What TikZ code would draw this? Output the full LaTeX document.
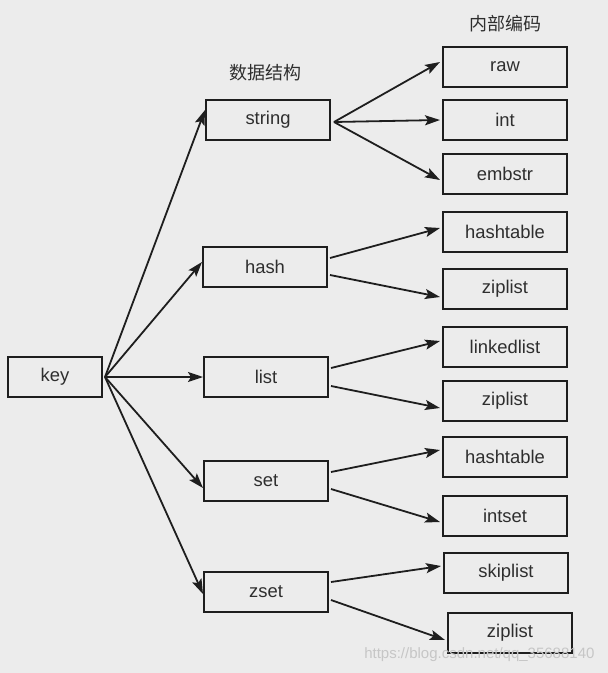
\documentclass[tikz,border=0pt]{standalone}
\usepackage{fontspec}
\setmainfont{Liberation Sans}
\newfontfamily\cjk{Noto Sans CJK SC}
\usetikzlibrary{arrows.meta}
\definecolor{bg}{HTML}{ECECEC}
\definecolor{ink}{HTML}{1E1E1E}
\definecolor{txt}{HTML}{2E2E2E}
\tikzset{
  box/.style={draw=ink, line width=2pt, minimum width=124pt, minimum height=40pt,
    inner sep=0pt, font=\fontsize{18.4}{22}\selectfont, text=txt},
  keybox/.style={box, minimum width=94pt},
  link/.style={draw=ink, line width=1.8pt, -{Stealth[length=15pt,width=10pt,inset=3pt]}},
  heading/.style={font=\cjk\fontsize{18}{22}\selectfont, text=txt},
}
\begin{document}
\begin{tikzpicture}[x=1pt,y=-1pt]
  \fill[bg] (0,0) rectangle (608,673);
  \useasboundingbox (0,0) rectangle (608,673);

  % column headings
  \node[heading] (hdA) at (265,73) {数据结构};
  \node[heading] (hdB) at (505,24) {内部编码};

  % key
  \node[keybox] (key) at (55,377) {key};

  % data structures
  \node[box] (string) at (268,120) {string};
  \node[box] (hash)   at (265,267) {hash};
  \node[box] (list)   at (266,377) {list};
  \node[box] (set)    at (266,481) {set};
  \node[box] (zset)   at (266,592) {zset};

  % internal encodings
  \node[box] (raw)   at (505,67)  {raw};
  \node[box] (int)   at (505,120) {int};
  \node[box] (emb)   at (505,174) {embstr};
  \node[box] (hht)   at (505,232) {hashtable};
  \node[box] (hzl)   at (505,289) {ziplist};
  \node[box] (lll)   at (505,347) {linkedlist};
  \node[box] (lzl)   at (505,401) {ziplist};
  \node[box] (sht)   at (505,457) {hashtable};
  \node[box] (sis)   at (505,516) {intset};
  \node[box] (zsk)   at (506,573) {skiplist};
  \node[box] (zzl)   at (510,633) {ziplist};

  % key -> data structures
  \coordinate (k) at ([xshift=2pt]key.east);
  \draw[link] (k) -- ([yshift=10pt]string.west);
  \draw[link] (k) -- ([yshift=5pt]hash.west);
  \draw[link] (k) -- (list.west);
  \draw[link] (k) -- ([yshift=-7pt]set.west);
  \draw[link] (k) -- ([yshift=-2pt]zset.west);

  % string
  \coordinate (s) at ([xshift=3pt,yshift=-2pt]string.east);
  \draw[link] (s) -- ([xshift=-2pt,yshift=5pt]raw.west);
  \draw[link] (s) -- ([xshift=-2pt]int.west);
  \draw[link] (s) -- ([xshift=-2pt,yshift=-6pt]emb.west);

  % hash
  \draw[link] ([xshift=2pt,yshift=9pt]hash.east) -- ([xshift=-2pt,yshift=4pt]hht.west);
  \draw[link] ([xshift=2pt,yshift=-8pt]hash.east) -- ([xshift=-2pt,yshift=-8pt]hzl.west);

  % list
  \draw[link] ([xshift=2pt,yshift=9pt]list.east) -- ([xshift=-2pt,yshift=6pt]lll.west);
  \draw[link] ([xshift=2pt,yshift=-9pt]list.east) -- ([xshift=-2pt,yshift=-7pt]lzl.west);

  % set
  \draw[link] ([xshift=2pt,yshift=9pt]set.east) -- ([xshift=-2pt,yshift=7pt]sht.west);
  \draw[link] ([xshift=2pt,yshift=-8pt]set.east) -- ([xshift=-2pt,yshift=-6pt]sis.west);

  % zset
  \draw[link] ([xshift=2pt,yshift=10pt]zset.east) -- ([xshift=-2pt,yshift=7pt]zsk.west);
  \draw[link] ([xshift=2pt,yshift=-8pt]zset.east) -- ([xshift=-2pt,yshift=-7pt]zzl.west);

  % watermark
  \node[font=\fontsize{15}{18}\selectfont, text=gray!45, anchor=east] (wm) at (598,655)
    {https://blog.csdn.net/qq\_35688140};
\end{tikzpicture}
\end{document}
